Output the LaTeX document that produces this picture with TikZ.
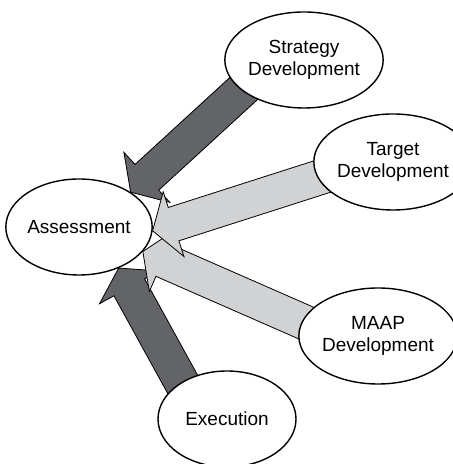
\documentclass[tikz,border=0pt]{standalone}
\usepackage{fontspec}
\setmainfont{Liberation Sans}
\usepackage{tikz}
\usepackage{xcolor}
\usetikzlibrary{positioning, arrows.meta, backgrounds, shapes.geometric, calc}

\definecolor{darkflow}{RGB}{99,100,104}
\definecolor{lightflow}{RGB}{209,210,212}

% block arrow: style, source anchor, tip anchor
\newcommand{\blockarrow}[3]{%
    \coordinate (ba-t) at (#3);
    \coordinate (ba-s) at ($(#2)!-15pt!(ba-t)$);
    \coordinate (ba-c) at ($(ba-t)!11pt!(ba-s)$);
    \filldraw[#1] ($(ba-s)!8.75pt!90:(ba-t)$) -- ($(ba-c)!8.75pt!90:(ba-t)$)
    -- ($(ba-c)!17pt!90:(ba-t)$) -- (ba-t) -- ($(ba-c)!17pt!-90:(ba-t)$)
    -- ($(ba-c)!8.75pt!-90:(ba-t)$) -- ($(ba-s)!8.75pt!-90:(ba-t)$) -- cycle;
}

\begin{document}
\begin{tikzpicture}[
            x=0.5pt, y=0.5pt,
            phase/.style={ellipse, draw, line width=0.7pt, fill=white, inner sep=0pt,
                    minimum width=69pt, minimum height=48pt, align=center,
                    font=\fontsize{9.5}{11}\selectfont},
            darkarrow/.style={fill=darkflow, draw=black, line width=0.4pt, line join=miter},
            lightarrow/.style={fill=lightflow, draw=black, line width=0.4pt, line join=miter},
            ]
            \useasboundingbox (0,0) rectangle (452,464);

            \node[phase] (strat) at (304,404) {Strategy\\Development};
            \node[phase] (target) at (393,302) {Target\\Development};
            \node[phase] (assess) at (79,237) {Assessment};
            \node[phase] (maap) at (378,128) {MAAP\\Development};
            \node[phase] (exec) at (227,45) {Execution};

            \begin{scope}[on background layer]
                \blockarrow{darkarrow}{exec.141}{assess.-46}
                \blockarrow{lightarrow}{maap.169}{assess.-21}
                \blockarrow{darkarrow}{strat.206}{assess.34}
                \blockarrow{lightarrow}{target.192}{assess.-3}
            \end{scope}

        \end{tikzpicture}
\end{document}
